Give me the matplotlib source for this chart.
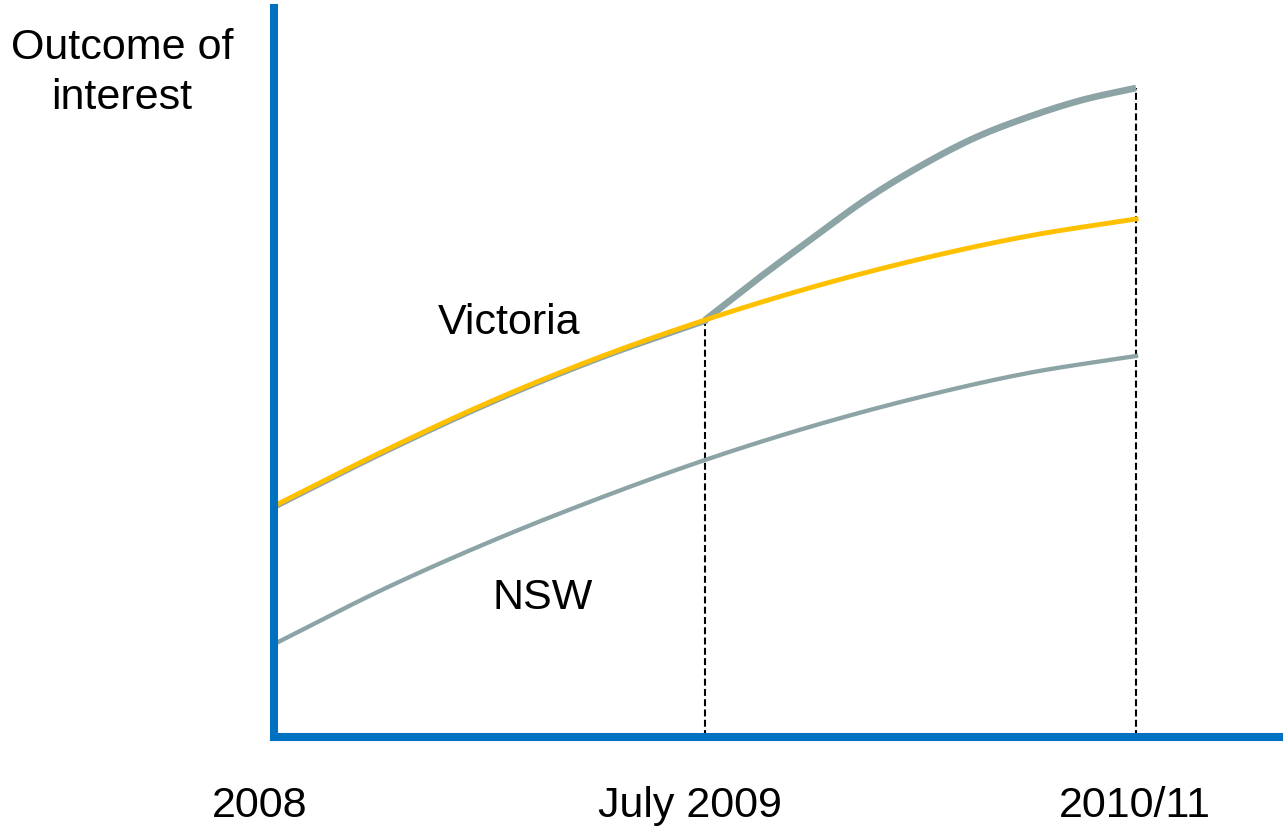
import numpy as np
import matplotlib
matplotlib.use("Agg")
import matplotlib.pyplot as plt

plt.rcParams['font.family'] = ['Liberation Sans', 'DejaVu Sans']
plt.rcParams['lines.scale_dashes'] = False

# time axis: 0 = 2008, 1 = July 2009, 2 = 2010/11
t_vic = [0.0, 0.25, 0.5, 0.75, 1.0, 1.25, 1.5, 1.75, 2.0]
victoria = [23.1, 28.5, 33.5, 37.9, 41.7, 45.0, 47.8, 50.1, 51.8]

t_nsw = [0.01, 0.25, 0.5, 0.75, 1.0, 1.25, 1.5, 1.75, 2.0]
nsw = [9.5, 14.7, 19.5, 23.8, 27.7, 31.1, 34.0, 36.4, 38.1]

# observed Victoria after the change in July 2009
t_after = [1.0, 1.125, 1.25, 1.375, 1.5, 1.625, 1.75, 1.875, 2.0]
vic_after = [41.7, 45.9, 49.9, 53.8, 57.1, 59.9, 62.0, 63.7, 64.9]

period_labels = ["2008", "July 2009", "2010/11"]
series_labels = ["Victoria", "NSW"]

BLUE = "#0070C0"
GREY = "#8CA4A6"
GOLD = "#FFC000"


def smooth(x, y, n=40):
    # cubic hermite through the points, tangents from neighbours
    x = np.asarray(x, float)
    y = np.asarray(y, float)
    m = np.gradient(y, x)
    xs, ys = [], []
    for i in range(len(x) - 1):
        h = x[i + 1] - x[i]
        s = np.linspace(0, 1, n, endpoint=False)
        h00 = 2 * s**3 - 3 * s**2 + 1
        h10 = s**3 - 2 * s**2 + s
        h01 = -2 * s**3 + 3 * s**2
        h11 = s**3 - s**2
        xs.append(x[i] + s * h)
        ys.append(h00 * y[i] + h10 * h * m[i] + h01 * y[i + 1] + h11 * h * m[i + 1])
    xs.append([x[-1]])
    ys.append([y[-1]])
    return np.concatenate(xs), np.concatenate(ys)


W, H = 1283, 829
fig = plt.figure(figsize=(W / 100, H / 100), dpi=100)
ax = fig.add_axes([274 / W, 91 / H, (W - 274) / W, 729 / H])
ax.set_xlim(0, (W - 274) / 431)
ax.set_ylim(0, 72.9)

for side in ("top", "right"):
    ax.spines[side].set_visible(False)
for side in ("left", "bottom"):
    ax.spines[side].set_color(BLUE)
    ax.spines[side].set_linewidth(5.8)
    ax.spines[side].set_zorder(5)
ax.set_xticks([])
ax.set_yticks([])

# grey path: Victoria before, then the observed rise
pre_t = [t for t in t_vic if t <= 1.0]
pre = [v for t, v in zip(t_vic, victoria) if t <= 1.0]
gx1, gy1 = smooth(pre_t, np.array(pre) - 0.15)
gx2, gy2 = smooth(t_after, vic_after)
ax.plot(gx1, gy1, color=GREY, lw=3.6, clip_on=False, zorder=2)
ax.plot(gx2, gy2, color=GREY, lw=4.8, clip_on=False, zorder=2,
        solid_capstyle='butt')

vx, vy = smooth(t_vic, victoria)
ax.plot(vx, vy, color=GOLD, lw=3.5, clip_on=False, zorder=3)

nx, ny = smooth(t_nsw, nsw)
ax.plot(nx, ny, color=GREY, lw=3.1, clip_on=False, zorder=2)

# reference lines at the change and at the end
ax.plot([1.0, 1.0], [0, victoria[4]], color="black", lw=1.5,
        linestyle=(0, (5, 2.4)), zorder=1)
ax.plot([2.0, 2.0], [0, vic_after[-1]], color="black", lw=1.5,
        linestyle=(0, (5, 2.4)), zorder=1)

fs = 31
fig.text(122 / W, 1 - 73 / H, "Outcome of\ninterest", ha="center", va="center",
         fontsize=fs, linespacing=1.32)
fig.text(509 / W, 1 - 323 / H, series_labels[0], ha="center", va="center", fontsize=fs)
fig.text(543 / W, 1 - 598 / H, series_labels[1], ha="center", va="center", fontsize=fs)

for xc, lab in zip([260, 690, 1135], period_labels):
    fig.text(xc / W, 1 - 806 / H, lab, ha="center", va="center", fontsize=fs)

fig.savefig("out.png", dpi=100)
